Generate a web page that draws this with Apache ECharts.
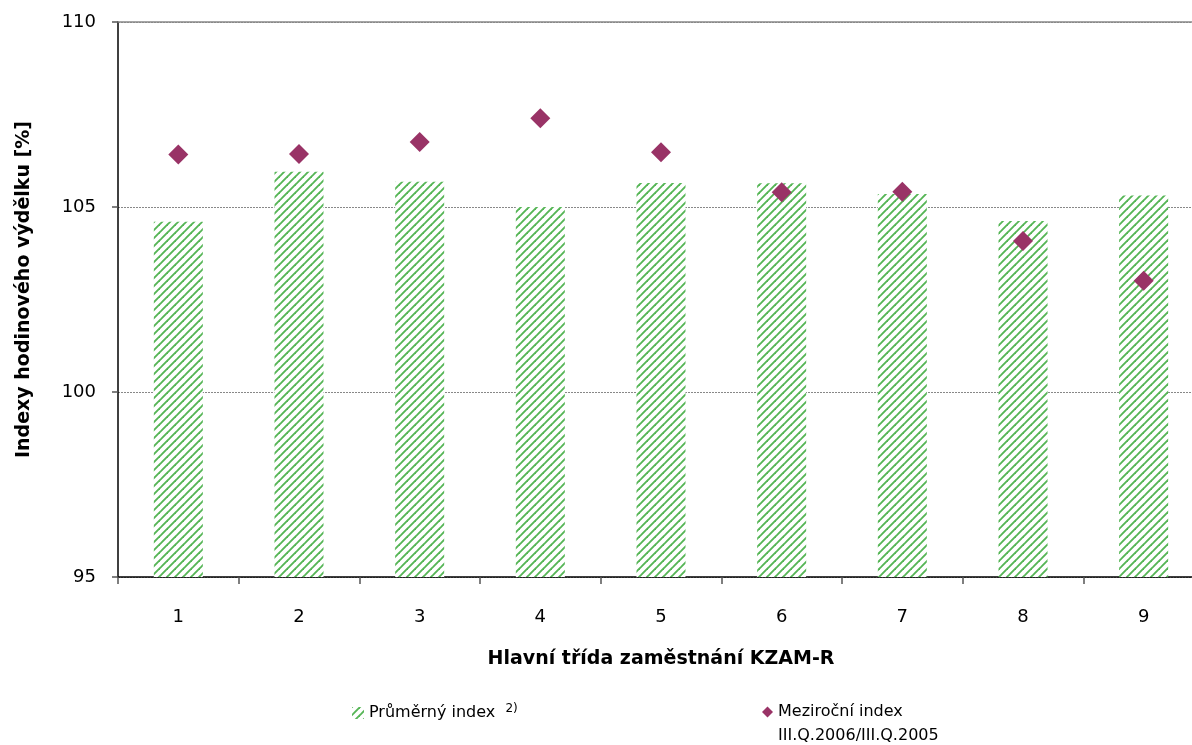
<!DOCTYPE html>
<html><head><meta charset="utf-8">
<script src="https://cdn.jsdelivr.net/npm/echarts@6/dist/echarts.min.js"></script>
<style>html,body{margin:0;padding:0;background:#fff}#c{width:1192px;height:745px}</style>
</head><body><div id="c"></div>
<script>
var categories = ['1','2','3','4','5','6','7','8','9'];
var prumernyIndex = [104.6, 105.95, 105.68, 105.0, 105.65, 105.64, 105.35, 104.62, 105.31];
var mezirocniIndex = [106.42, 106.43, 106.76, 107.40, 106.48, 105.40, 105.41, 104.08, 103.01];
var yTicks = [95, 100, 105, 110];

var FONT = 'DejaVu Sans';
function makePattern(){
  var c = document.createElement('canvas');
  c.width = 8; c.height = 8;
  var g = c.getContext('2d');
  g.fillStyle = '#ffffff'; g.fillRect(0,0,8,8);
  g.strokeStyle = '#55b555'; g.lineWidth = 1.9;
  for (var k=-1;k<=1;k++){
    g.beginPath(); g.moveTo(-2+k*8, 10); g.lineTo(10+k*8, -2); g.stroke();
  }
  return c;
}
var pat = {image: makePattern(), repeat: 'repeat'};

var chart = echarts.init(document.getElementById('c'));
chart.setOption({
  animation: false,
  backgroundColor: '#fff',
  grid: {left: 118, right: -12, top: 22, bottom: 168, containLabel: false, outerBoundsMode: 'none'},
  xAxis: [{
    type: 'category', data: categories, position: 'bottom',
    axisLine: {show: true, lineStyle: {color: '#000', width: 1.5}},
    axisTick: {show: true, interval: 0, alignWithLabel: false, length: 7, lineStyle: {color: '#555', width: 1.5}},
    axisLabel: {fontFamily: FONT, fontSize: 18, color: '#000', margin: 31},
    name: 'Hlavní třída zaměstnání KZAM-R', nameLocation: 'middle', nameGap: 73,
    nameTextStyle: {fontFamily: FONT, fontSize: 19, fontWeight: 'bold', color: '#000'}
  },{
    type: 'category', data: categories, position: 'top',
    axisLine: {lineStyle: {color: '#888', width: 1.5}},
    axisTick: {show: false}, axisLabel: {show: false}
  }],
  yAxis: {
    type: 'value', min: yTicks[0], max: yTicks[yTicks.length-1], interval: 5,
    axisLine: {show: true, lineStyle: {color: '#000', width: 1.5}},
    axisTick: {show: true, length: 6, lineStyle: {color: '#555', width: 1.5}},
    axisLabel: {fontFamily: FONT, fontSize: 18, color: '#000', margin: 22},
    splitLine: {show: true, lineStyle: {color: '#888', type: [2,1], width: 1}},
    name: 'Indexy hodinového výdělku [%]', nameLocation: 'middle', nameGap: 84,
    nameTextStyle: {fontFamily: FONT, fontSize: 19, fontWeight: 'bold', color: '#000', padding: [0,0,0,20]}
  },
  legend: [{
    data: [{name: 'Průměrný index', icon: 'rect'}],
    left: 352, top: 703, itemWidth: 12, itemHeight: 12, itemGap: 6, padding: 0,
    formatter: function(n){ return '{a|' + n + '}  {s|2)}'; },
    textStyle: {fontFamily: FONT, fontSize: 16, color: '#000',
      rich: {a: {fontFamily: FONT, fontSize: 16, color: '#000'},
             s: {fontFamily: FONT, fontSize: 12, color: '#000', verticalAlign: 'top', padding: [0,0,8,0]}}}
  },{
    data: [{name: 'Meziroční index', icon: 'diamond'}],
    left: 762, top: 704, itemWidth: 11, itemHeight: 11, itemGap: 5, padding: 0,
    textStyle: {fontFamily: FONT, fontSize: 16, color: '#000'}
  }],
  graphic: [{
    type: 'text', left: 778, top: 728,
    style: {text: 'III.Q.2006/III.Q.2005', font: '16px "DejaVu Sans"', fill: '#000'}
  }],
  series: [{
    name: 'Průměrný index', type: 'bar', data: prumernyIndex, barWidth: 49,
    itemStyle: {color: pat, opacity: 1}
  },{
    name: 'Meziroční index', type: 'scatter', data: mezirocniIndex, symbol: 'diamond', symbolSize: 20,
    itemStyle: {color: '#993366', opacity: 1}
  }]
});
</script></body></html>
